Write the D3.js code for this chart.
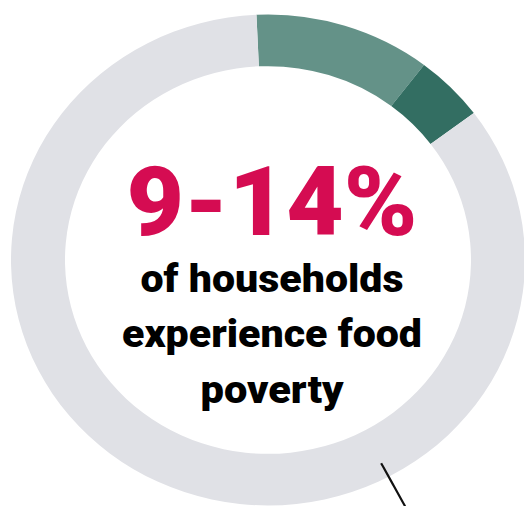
<!DOCTYPE html>
<html>
<head>
<meta charset="utf-8">
<script src="https://cdn.jsdelivr.net/npm/d3@7"></script>
<style>
  html, body { margin: 0; padding: 0; background: #fff; }
  #chart { width: 524px; height: 506px; overflow: hidden; }
  svg { display: block; }
</style>
</head>
<body>
<div id="chart"></div>
<script>
// share of households
var segments = ["lower estimate", "upper range", "other households"];
var shares = [11.1, 4.4, 84.5];
var colors = ["#649288", "#336e62", "#e0e1e6"];

var headline = "9-14%";
var caption = ["of households", "experience food", "poverty"];

var width = 524, height = 506;
var cx = 268, cy = 260, ky = 0.955;
var outerR = 257, innerR = 203;

var svg = d3.select("#chart").append("svg")
    .attr("width", width)
    .attr("height", height);

var pie = d3.pie()
    .sort(null)
    .startAngle(-0.045)
    .endAngle(2 * Math.PI - 0.045);

var arc = d3.arc()
    .innerRadius(innerR)
    .outerRadius(outerR);

var data = segments.map(function(s, i) { return {name: s, value: shares[i]}; });

svg.append("g")
    .attr("transform", "translate(" + cx + "," + cy + ") scale(1," + ky + ")")
  .selectAll("path")
    .data(pie.value(function(d) { return d.value; })(data))
    .enter().append("path")
    .attr("d", arc)
    .attr("fill", function(d, i) { return colors[i]; });

// small leader line at the bottom of the ring
var leaderAngle = 152 * Math.PI / 180;
var leader = d3.line()
    .x(function(r) { return cx + r * Math.sin(leaderAngle); })
    .y(function(r) { return cy - r * Math.cos(leaderAngle) * ky; })
    .curve(d3.curveBasis);

svg.append("path")
    .attr("d", leader([241, 265, 292]))
    .attr("fill", "none")
    .attr("stroke", "#111")
    .attr("stroke-width", 2.2);

svg.append("text")
    .attr("x", 272)
    .attr("y", 235)
    .attr("text-anchor", "middle")
    .attr("font-family", "Roboto, sans-serif")
    .attr("font-weight", 900)
    .attr("font-size", 96)
    .attr("textLength", 291)
    .attr("lengthAdjust", "spacingAndGlyphs")
    .attr("fill", "#d50c52")
    .text(headline);

var capWidths = [263, 300, 143];
var baselines = [292, 347, 403];

svg.selectAll("text.cap")
    .data(caption)
    .enter().append("text")
    .attr("class", "cap")
    .attr("x", 272)
    .attr("y", function(d, i) { return baselines[i]; })
    .attr("text-anchor", "middle")
    .attr("font-family", "Roboto, sans-serif")
    .attr("font-weight", 900)
    .attr("font-size", 38)
    .attr("textLength", function(d, i) { return capWidths[i]; })
    .attr("lengthAdjust", "spacingAndGlyphs")
    .attr("fill", "#000")
    .text(function(d) { return d; });
</script>
</body>
</html>
